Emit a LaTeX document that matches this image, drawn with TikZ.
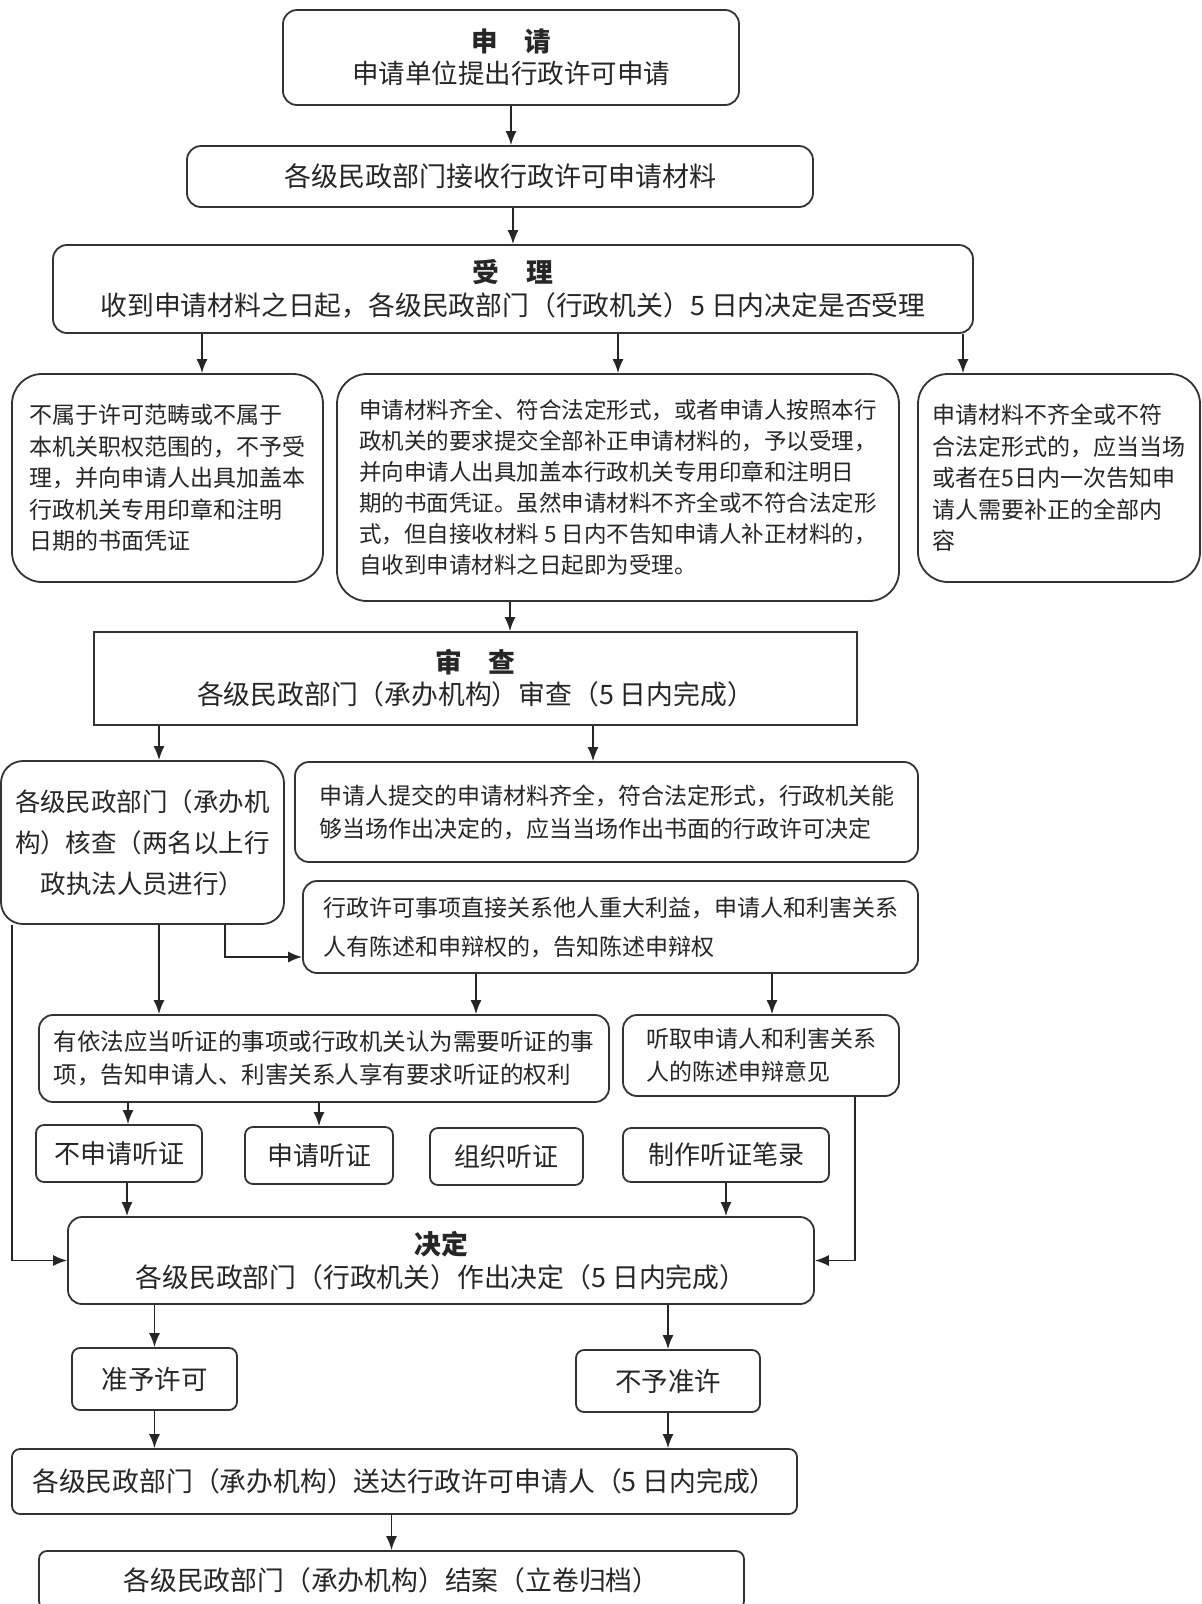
\documentclass[tikz,border=0pt]{standalone}
\usepackage{fontspec}
\setmainfont{Noto Sans CJK SC}
\usetikzlibrary{arrows.meta}
\newcommand{\fs}[2]{\fontsize{#1}{#2}\selectfont}

\begin{document}
\begin{tikzpicture}[x=1pt,y=-1pt,
                    box/.style={draw=black!80,line width=1.8pt,rounded corners=14pt,
                                fill=white,inner sep=0pt,text=black!85},
                    bigbox/.style={box,rounded corners=30pt},
                    arr/.style={-{Latex[length=14pt,width=11pt]},line width=1.6pt,draw=black!85}]
  \useasboundingbox (0,0) rectangle (1202,1604);
  \clip (0,0) rectangle (1202,1604);
  \node[box,minimum width=456pt,minimum height=95pt,align=center,font=\fs{26.5}{32}] (apply) at (511,57.5)
    {{\bfseries 申\quad 请}\\申请单位提出行政许可申请};
  \node[box,minimum width=626pt,minimum height=61pt,font=\fs{27}{32}] (recv) at (500,176.5)
    {各级民政部门接收行政许可申请材料};
  \node[box,minimum width=920pt,minimum height=88pt,align=center,font=\fs{26.8}{33}] (accept) at (513,289)
    {{\bfseries 受\quad 理}\\收到申请材料之日起，各级民政部门（行政机关）5 日内决定是否受理};
  \node[bigbox,minimum width=311pt,minimum height=208pt,align=left,font=\fs{23}{31.5}] (noscope) at (167.5,478)
    {不属于许可范畴或不属于\\本机关职权范围的，不予受\\理，并向申请人出具加盖本\\行政机关专用印章和注明\\日期的书面凭证};
  \node[bigbox,minimum width=562pt,minimum height=227pt,align=left,font=\fs{22.5}{31}] (ok) at (618,487.5)
    {申请材料齐全、符合法定形式，或者申请人按照本行\\政机关的要求提交全部补正申请材料的，予以受理，\\并向申请人出具加盖本行政机关专用印章和注明日\\期的书面凭证。虽然申请材料不齐全或不符合法定形\\式，但自接收材料 5 日内不告知申请人补正材料的，\\自收到申请材料之日起即为受理。};
  \node[bigbox,minimum width=282pt,minimum height=208pt,align=left,font=\fs{23}{31.5}] (incomp) at (1059,478)
    {申请材料不齐全或不符\\合法定形式的，应当当场\\或者在5日内一次告知申\\请人需要补正的全部内\\容};
  \node[box,sharp corners,minimum width=763pt,minimum height=93pt,align=center,font=\fs{26.8}{32}] (review) at (475.5,678.5)
    {{\bfseries 审\quad 查}\\各级民政部门（承办机构）审查（5 日内完成）};
  \node[box,rounded corners=22pt,minimum width=283pt,minimum height=163pt,align=center,font=\fs{25.5}{41}] (verify) at (142.5,842.5)
    {各级民政部门（承办机\\构）核查（两名以上行\\政执法人员进行）};
  \node[box,minimum width=623pt,minimum height=100pt,align=left,font=\fs{23}{33}] (onsite) at (606.5,812)
    {申请人提交的申请材料齐全，符合法定形式，行政机关能\\够当场作出决定的，应当当场作出书面的行政许可决定};
  \node[box,minimum width=615pt,minimum height=92pt,align=left,font=\fs{23}{39}] (notify) at (610.5,927)
    {行政许可事项直接关系他人重大利益，申请人和利害关系\\人有陈述和申辩权的，告知陈述申辩权};
  \node[box,minimum width=570pt,minimum height=87pt,align=left,font=\fs{23.5}{33}] (hearing) at (324,1058.5)
    {有依法应当听证的事项或行政机关认为需要听证的事\\项，告知申请人、利害关系人享有要求听证的权利};
  \node[box,minimum width=276pt,minimum height=81pt,align=left,font=\fs{23}{33}] (listen) at (761,1055.5)
    {听取申请人和利害关系\\人的陈述申辩意见};
  \node[box,rounded corners=8pt,minimum width=166pt,minimum height=57pt,font=\fs{26}{32}] (nohear) at (119,1153.5) {不申请听证};
  \node[box,rounded corners=8pt,minimum width=148pt,minimum height=57pt,font=\fs{26}{32}] (reqhear) at (319,1155.5) {申请听证};
  \node[box,rounded corners=8pt,minimum width=153pt,minimum height=57pt,font=\fs{26}{32}] (orghear) at (506.5,1156.5) {组织听证};
  \node[box,rounded corners=8pt,minimum width=206pt,minimum height=54pt,font=\fs{26}{32}] (record) at (726,1155) {制作听证笔录};
  \node[box,minimum width=746pt,minimum height=87pt,align=center,font=\fs{26.8}{33}] (decide) at (441,1260.5)
    {{\bfseries 决定}\\各级民政部门（行政机关）作出决定（5 日内完成）};
  \node[box,rounded corners=8pt,minimum width=165pt,minimum height=62pt,font=\fs{26.5}{32}] (grant) at (154.5,1379) {准予许可};
  \node[box,rounded corners=8pt,minimum width=184pt,minimum height=62pt,font=\fs{26.5}{32}] (deny) at (668,1381) {不予准许};
  \node[box,rounded corners=8pt,minimum width=785pt,minimum height=65pt,font=\fs{26.8}{32}] (deliver) at (404.5,1481.5)
    {各级民政部门（承办机构）送达行政许可申请人（5 日内完成）};
  \node[box,rounded corners=8pt,minimum width=705pt,minimum height=58pt,font=\fs{26.8}{32}] (close) at (391.5,1580)
    {各级民政部门（承办机构）结案（立卷归档）};
  \draw[arr] (apply.south) -- (apply.south |- recv.north);
  \draw[arr] (accept.north |- recv.south) -- (accept.north);
  \draw[arr] ([xshift=34.5pt]noscope.north |- accept.south) -- ([xshift=34.5pt]noscope.north);
  \draw[arr] (ok.north |- accept.south) -- (ok.north);
  \draw[arr] ([xshift=-96pt]incomp.north |- accept.south) -- ([xshift=-96pt]incomp.north);
  \draw[arr] ([xshift=-108pt]ok.south) -- ([xshift=-108pt]ok.south |- review.north);
  \draw[arr] ([xshift=16.5pt]verify.north |- review.south) -- ([xshift=16.5pt]verify.north);
  \draw[arr] ([xshift=-13.5pt]onsite.north |- review.south) -- ([xshift=-13.5pt]onsite.north);
  \draw[arr] ([xshift=82.5pt]verify.south) |- ([yshift=-30pt]notify.west);
  \draw[arr] ([xshift=16.5pt]verify.south) -- ([xshift=16.5pt]verify.south |- hearing.north);
  \draw[arr] ([xshift=-130.5pt]verify.south) |- (decide.west);
  \draw[arr] ([xshift=-134.5pt]notify.south) -- ([xshift=-134.5pt]notify.south |- hearing.north);
  \draw[arr] ([xshift=161.5pt]notify.south) -- ([xshift=161.5pt]notify.south |- listen.north);
  \draw[arr] ([xshift=9pt]nohear.north |- hearing.south) -- ([xshift=9pt]nohear.north);
  \draw[arr] (reqhear.north |- hearing.south) -- (reqhear.north);
  \draw[arr] ([xshift=8pt]nohear.south) -- ([xshift=8pt]nohear.south |- decide.north);
  \draw[arr] (record.south) -- (record.south |- decide.north);
  \draw[arr] ([xshift=94pt]listen.south) |- (decide.east);
  \draw[arr] (grant.north |- decide.south) -- (grant.north);
  \draw[arr] (deny.north |- decide.south) -- (deny.north);
  \draw[arr] (grant.south) -- (grant.south |- deliver.north);
  \draw[arr] (deny.south) -- (deny.south |- deliver.north);
  \draw[arr] (close.north |- deliver.south) -- (close.north);
\end{tikzpicture}
\end{document}
